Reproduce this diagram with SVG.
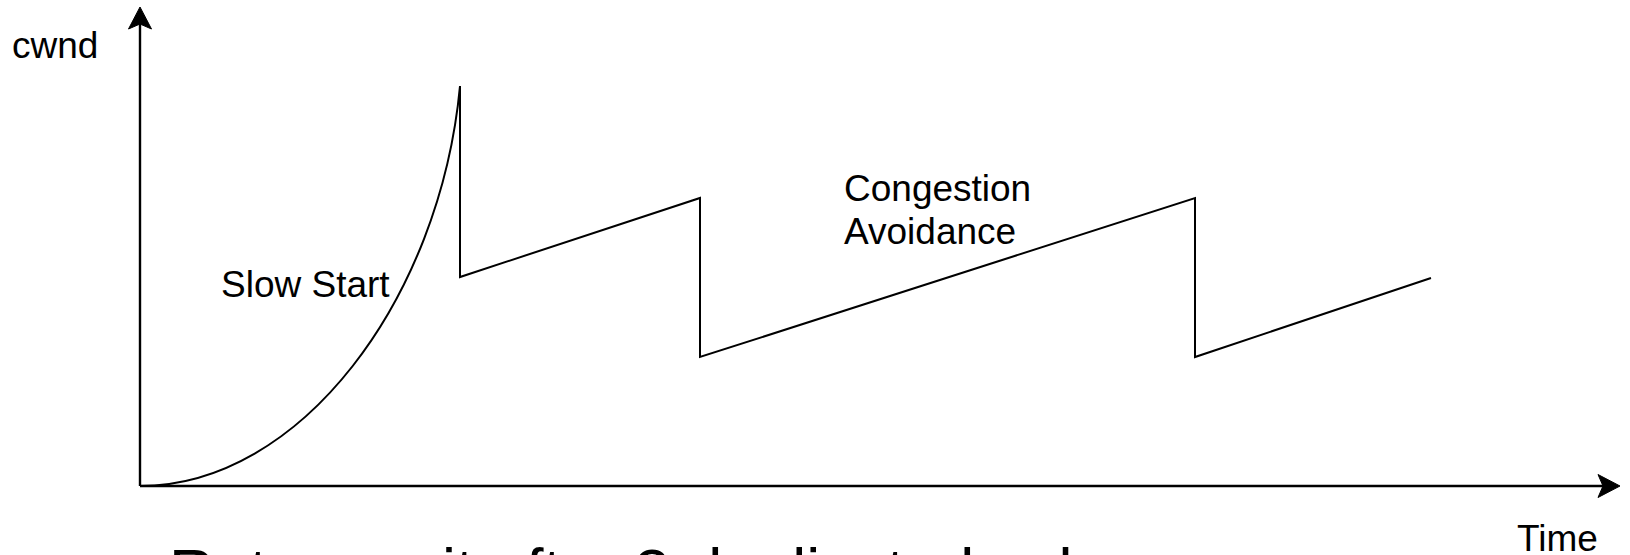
<svg xmlns="http://www.w3.org/2000/svg" width="1630" height="555" viewBox="0 0 1630 555">
  <style>
    .ln { fill: none; stroke: #000; stroke-width: 2; stroke-linejoin: miter; }
    .ax { fill: none; stroke: #000; stroke-width: 2.4; }
    .ah { fill: #000; stroke: #000; stroke-width: 1; }
    .t { font-family: "Liberation Sans", Arial, sans-serif; font-size: 37px; fill: #000; }
    .big { font-family: "Liberation Sans", Arial, sans-serif; font-size: 63px; fill: #000; }
  </style>
  <rect x="0" y="0" width="1630" height="555" fill="#fff"/>
  <g id="connectors">
    <g id="y-axis">
      <line class="ax" x1="140" y1="486" x2="140" y2="24"/>
      <polygon class="ah" points="140,7 151.5,29 140,24 128.5,29"/>
    </g>
    <g id="x-axis">
      <line class="ax" x1="140" y1="486" x2="1603" y2="486"/>
      <polygon class="ah" points="1620,486 1598,474.5 1603,486 1598,497.5"/>
    </g>
    <path id="slow-start-curve" class="ln" d="M140,486 C300,486 440,300 460,86"/>
    <path id="cwnd-sawtooth" class="ln" d="M460,86 L460,277 L700,198 L700,357 L1195,198 L1195,357 L1431,278"/>
  </g>
  <g id="label-cwnd"><text class="t" x="12" y="58">cwnd</text></g>
  <g id="label-slow-start"><text class="t" x="221" y="297">Slow Start</text></g>
  <g id="label-congestion-avoidance">
    <text class="t" x="844" y="201">Congestion</text>
    <text class="t" x="844" y="244">Avoidance</text>
  </g>
  <g id="label-time"><text class="t" x="1517" y="551">Time</text></g>
  <g id="label-caption"><text class="big" x="169" y="593">Retransmit after 3 duplicated acks</text></g>
</svg>
